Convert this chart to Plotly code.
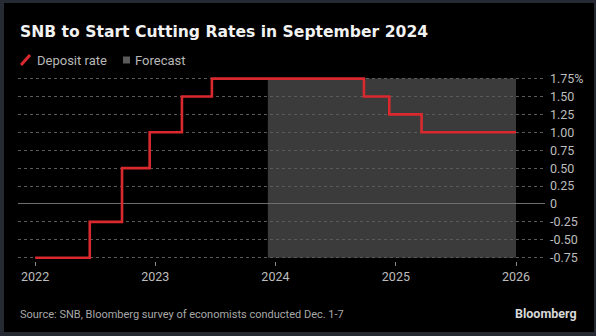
import plotly.graph_objects as go

# ---- data ----
dates = ["2022-01-01", "2022-06-16", "2022-09-22", "2022-12-15", "2023-03-23",
         "2023-06-22", "2024-09-26", "2024-12-12", "2025-03-20", "2026-01-01"]
rates = [-0.75, -0.25, 0.50, 1.00, 1.50, 1.75, 1.50, 1.25, 1.00, 1.00]
forecast_start = "2023-12-09"
forecast_end = "2026-01-01"
forecast_low, forecast_high = -0.75, 1.75
year_ticks = ["2022-01-01", "2023-01-01", "2024-01-01", "2025-01-01", "2026-01-01"]
year_labels = ["2022", "2023", "2024", "2025", "2026"]
y_ticks = [-0.75, -0.5, -0.25, 0, 0.25, 0.5, 0.75, 1.0, 1.25, 1.5, 1.75]
y_labels = ["-0.75", "-0.50", "-0.25", "0", "0.25", "0.50", "0.75", "1.00", "1.25", "1.50", "1.75%"]

title = "SNB to Start Cutting Rates in September 2024"
source = "Source: SNB, Bloomberg survey of economists conducted Dec. 1-7"

# ---- layout geometry ----
W, H = 596, 336
L, R, T, B = 18, 51, 75, 75
PW, PH = W - L - R, H - T - B


def px(x):
    return (x - L) / PW


def py(y):
    return (H - B - y) / PH


RED = "#d9292e"
BORDER = "#262b33"
FONT = "Roboto, Noto Sans, sans-serif"

fig = go.Figure()
fig.add_trace(go.Scatter(x=dates, y=rates, mode="lines", line_shape="hv",
                         line=dict(color=RED, width=2.6), showlegend=False,
                         hoverinfo="skip"))

shapes = [
    # black panel inside the border
    dict(type="rect", xref="paper", yref="paper", x0=px(4), x1=px(594), y0=py(332), y1=py(3),
         fillcolor="#000000", line_width=0, layer="below"),
    # forecast region
    dict(type="rect", xref="x", yref="y", x0=forecast_start, x1=forecast_end,
         y0=forecast_low, y1=forecast_high, fillcolor="#3b3b3b", line_width=0, layer="below"),
    # legend icons
    dict(type="line", xref="paper", yref="paper", x0=px(21), x1=px(30), y0=py(65), y1=py(55),
         line=dict(color=RED, width=3)),
    dict(type="rect", xref="paper", yref="paper", x0=px(123), x1=px(130), y0=py(63.5), y1=py(56.5),
         fillcolor="#5a5a5a", line_width=0),
]

annotations = [
    dict(text="<b>" + title + "</b>", xref="paper", yref="paper", x=px(18), y=py(32),
         xanchor="left", yanchor="middle", showarrow=False,
         font=dict(family="DejaVu Sans, sans-serif", size=15.6, color="#f2f2f2")),
    dict(text="Deposit rate", xref="paper", yref="paper", x=px(35), y=py(60),
         xanchor="left", yanchor="middle", showarrow=False,
         font=dict(family=FONT, size=13, color="#b8b8b8")),
    dict(text="Forecast", xref="paper", yref="paper", x=px(133), y=py(60),
         xanchor="left", yanchor="middle", showarrow=False,
         font=dict(family=FONT, size=13, color="#b8b8b8")),
    dict(text=source, xref="paper", yref="paper", x=px(18), y=py(314),
         xanchor="left", yanchor="middle", showarrow=False,
         font=dict(family=FONT, size=11, color="#a8a8a8")),
    dict(text="<b>Bloomberg</b>", xref="paper", yref="paper", x=px(579), y=py(313),
         xanchor="right", yanchor="middle", showarrow=False,
         font=dict(family=FONT, size=12.5, color="#d8d8d8")),
]

fig.update_layout(
    width=W, height=H,
    margin=dict(l=L, r=R, t=T, b=B),
    paper_bgcolor=BORDER, plot_bgcolor="rgba(0,0,0,0)",
    shapes=shapes, annotations=annotations,
    font=dict(family=FONT, color="#bdbdbd"),
    xaxis=dict(type="date", range=["2021-11-10", "2026-03-30"],
               tickvals=year_ticks, ticktext=year_labels,
               showgrid=False, zeroline=False, showline=False,
               ticks="outside", ticklen=4, tickcolor="#8a8a8a", tickwidth=1,
               tickfont=dict(size=12.5, color="#bdbdbd")),
    yaxis=dict(range=[-0.796, 1.80], side="right",
               tickvals=y_ticks, ticktext=y_labels,
               showgrid=True, gridcolor="#5a5a5a", griddash="dot", gridwidth=1,
               zeroline=True, zerolinecolor="#6e6e6e", zerolinewidth=1,
               showline=False, ticks="", ticklabelstandoff=4,
               tickfont=dict(size=12.5, color="#bdbdbd")),
)

fig.write_html("out.html")
